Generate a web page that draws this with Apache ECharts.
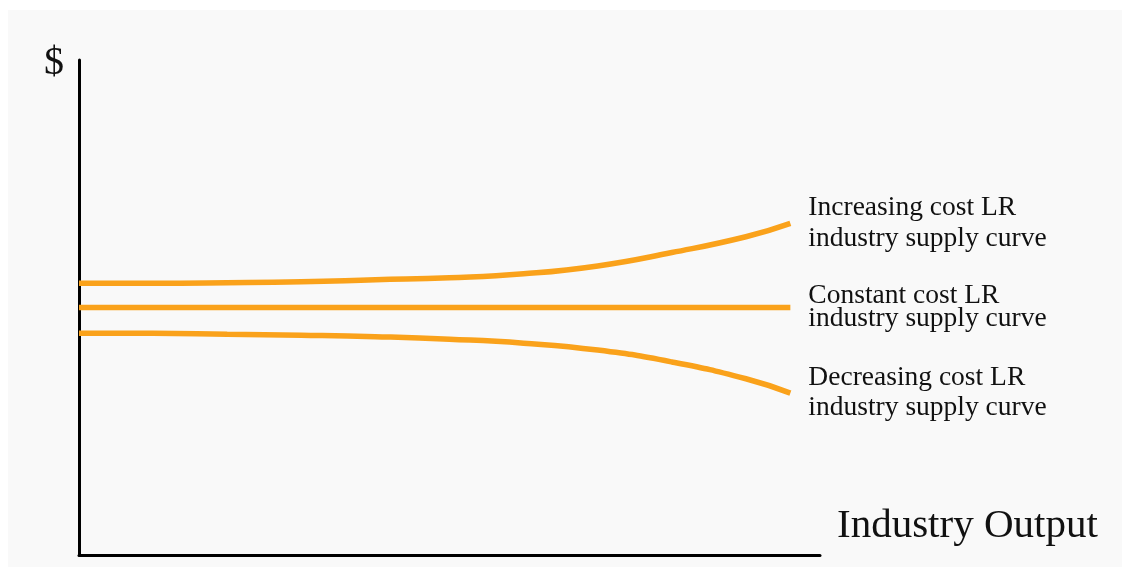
<!DOCTYPE html>
<html>
<head>
<meta charset="utf-8">
<script src="https://cdn.jsdelivr.net/npm/echarts@6/dist/echarts.min.js"></script>
<style>
  html, body { margin: 0; padding: 0; background: #ffffff; }
  #main { width: 1122px; height: 567px; }
</style>
</head>
<body>
<div id="main"></div>
<script>
// 产出 (横轴)
var outputX = [0, 10, 20, 30, 40, 50, 60, 70, 80, 90, 96];
// 三条长期行业供给曲线
var increasingCost = [54.9, 54.9, 55.0, 55.2, 55.6, 56.0, 56.8, 58.4, 61.1, 64.3, 67.0];
var constantCost = [50, 50, 50, 50, 50, 50, 50, 50, 50, 50, 50];
var decreasingCost = [44.8, 44.8, 44.6, 44.4, 44.1, 43.6, 42.8, 41.4, 39.0, 35.6, 32.7];
var curveNames = ['Increasing cost LR\nindustry supply curve',
                  'Constant cost LR\nindustry supply curve',
                  'Decreasing cost LR\nindustry supply curve'];

function pairs(ys) {
    var arr = [];
    for (var i = 0; i < outputX.length; i++) {
        arr.push([outputX[i], ys[i]]);
    }
    return arr;
}

var serif = "'Liberation Serif', 'DejaVu Serif', serif";
var orange = '#faa21b';

function curve(name, ys, lh) {
    return {
        name: name,
        type: 'line',
        data: pairs(ys),
        smooth: 0.5,
        symbol: 'none',
        lineStyle: { color: orange, width: 5.5 },
        endLabel: {
            show: true,
            formatter: '{a}',
            distance: 18,
            fontFamily: serif,
            fontSize: 27.5,
            lineHeight: lh,
            color: '#111'
        }
    };
}

var myChart = echarts.init(document.getElementById('main'));
var option = {
    backgroundColor: '#ffffff',
    animation: false,
    graphic: [{
        type: 'rect',
        z: -10,
        shape: { x: 8, y: 10, width: 1114, height: 557 },
        style: { fill: '#f9f9f9' }
    }],
    grid: { left: 79, right: 302, top: 60, bottom: 12 },
    xAxis: {
        type: 'value',
        min: 0,
        max: 100,
        name: 'Industry Output',
        nameLocation: 'end',
        nameGap: 17,
        nameTextStyle: {
            fontFamily: serif,
            fontSize: 41,
            color: '#111',
            align: 'left',
            verticalAlign: 'bottom',
            padding: [0, 0, 8, 0]
        },
        axisLine: { show: true, lineStyle: { color: '#000', width: 3 } },
        axisTick: { show: false },
        axisLabel: { show: false },
        splitLine: { show: false }
    },
    yAxis: {
        type: 'value',
        min: 0,
        max: 100,
        name: '$',
        nameLocation: 'end',
        nameGap: -3,
        nameTextStyle: {
            fontFamily: serif,
            fontSize: 40,
            color: '#111',
            align: 'right',
            verticalAlign: 'middle',
            padding: [0, 15, 0, 0]
        },
        axisLine: { show: true, lineStyle: { color: '#000', width: 3 } },
        axisTick: { show: false },
        axisLabel: { show: false },
        splitLine: { show: false }
    },
    series: [
        curve(curveNames[0], increasingCost, 31),
        curve(curveNames[1], constantCost, 23),
        curve(curveNames[2], decreasingCost, 30)
    ]
};
myChart.setOption(option);
</script>
</body>
</html>
